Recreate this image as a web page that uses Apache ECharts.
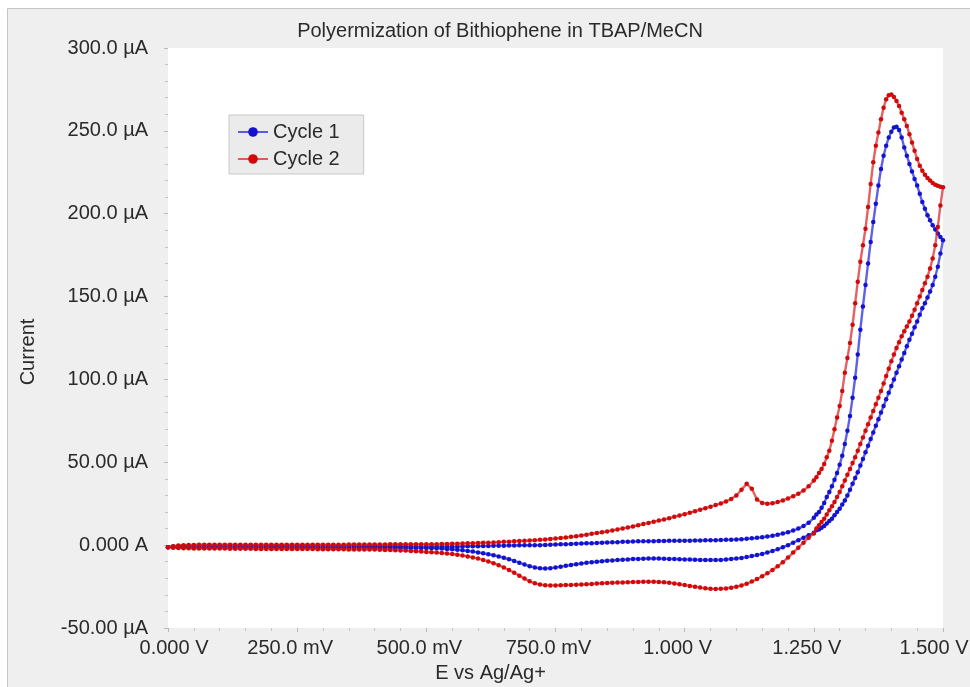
<!DOCTYPE html>
<html>
<head>
<meta charset="utf-8">
<script src="https://cdn.jsdelivr.net/npm/echarts/dist/echarts.min.js"></script>
<style>
html,body{margin:0;padding:0;background:#ffffff;}
#chart{width:970px;height:687px;}
</style>
</head>
<body>
<div id="chart"></div>
<script>
// Potential grid (V): 10 mV steps to 1.25 V, then 5 mV steps to 1.50 V
const potentials = [
0.00,0.01,0.02,0.03,0.04,0.05,0.06,0.07,0.08,0.09,
0.10,0.11,0.12,0.13,0.14,0.15,0.16,0.17,0.18,0.19,
0.20,0.21,0.22,0.23,0.24,0.25,0.26,0.27,0.28,0.29,
0.30,0.31,0.32,0.33,0.34,0.35,0.36,0.37,0.38,0.39,
0.40,0.41,0.42,0.43,0.44,0.45,0.46,0.47,0.48,0.49,
0.50,0.51,0.52,0.53,0.54,0.55,0.56,0.57,0.58,0.59,
0.60,0.61,0.62,0.63,0.64,0.65,0.66,0.67,0.68,0.69,
0.70,0.71,0.72,0.73,0.74,0.75,0.76,0.77,0.78,0.79,
0.80,0.81,0.82,0.83,0.84,0.85,0.86,0.87,0.88,0.89,
0.90,0.91,0.92,0.93,0.94,0.95,0.96,0.97,0.98,0.99,
1.00,1.01,1.02,1.03,1.04,1.05,1.06,1.07,1.08,1.09,
1.10,1.11,1.12,1.13,1.14,1.15,1.16,1.17,1.18,1.19,
1.20,1.21,1.22,1.23,1.24,1.25,
1.255,1.260,1.265,1.270,1.275,1.280,1.285,1.290,1.295,1.300,
1.305,1.310,1.315,1.320,1.325,1.330,1.335,1.340,1.345,1.350,
1.355,1.360,1.365,1.370,1.375,1.380,1.385,1.390,1.395,1.400,
1.405,1.410,1.415,1.420,1.425,1.430,1.435,1.440,1.445,1.450,
1.455,1.460,1.465,1.470,1.475,1.480,1.485,1.490,1.495,1.500
];

// Currents (µA), indexed like potentials. Forward = anodic sweep 0 -> 1.5 V,
// reverse = return sweep (listed here in ascending potential order).
const cycle1Forward = [
-1.2,-0.8,-0.6,-0.5,-0.5,-0.5,-0.5,-0.4,-0.4,-0.4,
-0.4,-0.4,-0.4,-0.4,-0.4,-0.4,-0.4,-0.4,-0.4,-0.4,
-0.4,-0.4,-0.4,-0.4,-0.4,-0.4,-0.4,-0.4,-0.5,-0.5,
-0.5,-0.5,-0.5,-0.5,-0.5,-0.5,-0.5,-0.6,-0.6,-0.6,
-0.6,-0.6,-0.7,-0.7,-0.7,-0.8,-0.8,-0.8,-0.9,-0.9,
-1.0,-1.0,-1.0,-1.0,-1.0,-0.9,-0.9,-0.8,-0.7,-0.7,
-0.6,-0.5,-0.5,-0.4,-0.3,-0.3,-0.2,-0.2,-0.1,-0.1,
-0.1,0.0,0.0,0.1,0.2,0.4,0.5,0.6,0.7,0.9,
1.0,1.1,1.2,1.3,1.5,1.6,1.7,1.8,2.0,2.1,
2.2,2.3,2.3,2.4,2.4,2.5,2.5,2.6,2.6,2.6,
2.7,2.7,2.8,2.8,2.9,3.0,3.0,3.1,3.2,3.3,
3.4,3.6,3.8,4.1,4.4,4.8,5.2,5.7,6.3,7.0,
7.8,8.8,10.0,11.5,13.5,16.5,
18.5,20,22.5,25.5,29,32,35.5,39.5,43.5,48.5,
54,61,69,78,89,101,115,130,144,157,
170,183,195,206,217,227,235,241,246,249.5,
252,252.5,250.5,246,240,235,230,225.5,221,217,
212,207,203,199,196,193,190.5,188,186,184
];
const cycle1Reverse = [
-1.2,-1.2,-1.2,-1.2,-1.3,-1.3,-1.3,-1.3,-1.3,-1.3,
-1.3,-1.3,-1.3,-1.3,-1.3,-1.3,-1.3,-1.3,-1.3,-1.3,
-1.3,-1.3,-1.3,-1.3,-1.4,-1.4,-1.4,-1.4,-1.4,-1.4,
-1.4,-1.4,-1.4,-1.5,-1.5,-1.5,-1.5,-1.5,-1.5,-1.6,
-1.6,-1.6,-1.6,-1.6,-1.6,-1.6,-1.7,-1.7,-1.7,-1.7,
-1.7,-1.8,-1.9,-2.1,-2.3,-2.5,-2.8,-3.1,-3.5,-3.9,
-4.4,-4.9,-5.5,-6.1,-6.8,-7.6,-8.5,-9.5,-10.6,-11.7,
-12.7,-13.5,-14.0,-14.1,-13.9,-13.5,-13.0,-12.5,-12.0,-11.5,
-11.1,-10.7,-10.3,-10.0,-9.7,-9.4,-9.2,-9.0,-8.8,-8.6,
-8.4,-8.3,-8.2,-8.1,-8.1,-8.1,-8.2,-8.3,-8.4,-8.5,
-8.6,-8.7,-8.8,-8.9,-9.0,-9.0,-9.0,-8.9,-8.7,-8.4,
-8.1,-7.7,-7.2,-6.6,-6.0,-5.3,-4.5,-3.5,-2.5,-1.2,
0.0,1.5,3.0,4.5,6.0,7.5,
9,9.5,10.5,11.5,13,14.5,16,18,20,22,
24.5,27,30,33.5,37,40.5,44,48,52,56,
60,64,68,72,76,80,84,88,92,96,
100,104,108,112,116,120,124,127.5,131.5,135,
139,143,146,149.5,153,157,162,168,176,184
];
const cycle2Forward = [
-1.2,-0.6,-0.2,0.0,0.1,0.1,0.2,0.2,0.2,0.2,
0.2,0.2,0.2,0.2,0.2,0.2,0.2,0.2,0.2,0.2,
0.2,0.2,0.2,0.2,0.3,0.3,0.3,0.3,0.3,0.3,
0.3,0.3,0.3,0.3,0.3,0.4,0.4,0.4,0.4,0.4,
0.4,0.4,0.4,0.5,0.5,0.5,0.5,0.5,0.6,0.6,
0.6,0.6,0.6,0.7,0.7,0.8,0.9,1.0,1.1,1.2,
1.3,1.4,1.5,1.6,1.8,2.0,2.1,2.3,2.5,2.6,
2.8,3.0,3.2,3.4,3.7,4.0,4.3,4.6,5.0,5.4,
5.8,6.3,6.8,7.3,7.8,8.3,8.9,9.5,10.1,10.7,
11.3,12.0,12.7,13.4,14.1,14.8,15.5,16.3,17.1,17.9,
18.7,19.6,20.5,21.4,22.3,23.2,24.2,25.2,26.4,27.8,
30.0,33.5,37.0,34.0,27.5,25.5,25.0,25.3,26.0,27.0,
28.2,29.5,31.0,33.0,35.5,39.0,
41,43.5,46,49,53,57,63,70,77,84,
93,104,113,122,133,146,159,171,181,191,
204,218,231,241,249,257,264,269,271.5,272,
270.5,268,265,261,257,253,248,243,238,233,
229,226,223.5,221.5,220,218.5,217.5,216.8,216.2,216
];
const cycle2Reverse = [
-1.3,-1.5,-1.7,-1.8,-1.9,-2.0,-2.0,-2.0,-2.1,-2.1,
-2.1,-2.1,-2.2,-2.2,-2.2,-2.2,-2.2,-2.3,-2.3,-2.3,
-2.3,-2.3,-2.3,-2.4,-2.4,-2.4,-2.4,-2.4,-2.4,-2.5,
-2.5,-2.5,-2.5,-2.5,-2.5,-2.6,-2.6,-2.6,-2.6,-2.6,
-2.7,-2.8,-2.9,-3.0,-3.1,-3.2,-3.3,-3.5,-3.7,-3.9,
-4.1,-4.3,-4.5,-4.8,-5.1,-5.4,-5.8,-6.3,-6.8,-7.4,
-8.1,-8.9,-9.8,-10.9,-12.1,-13.5,-15.0,-16.6,-18.4,-20.2,
-21.8,-23.0,-23.8,-24.2,-24.3,-24.3,-24.2,-24.1,-24.0,-23.9,
-23.8,-23.6,-23.4,-23.2,-23.0,-22.8,-22.7,-22.6,-22.5,-22.4,
-22.3,-22.2,-22.1,-22.1,-22.1,-22.2,-22.4,-22.7,-23.1,-23.6,
-24.1,-24.6,-25.1,-25.6,-26.0,-26.3,-26.4,-26.3,-26.1,-25.7,
-25.1,-24.3,-23.3,-22.0,-20.5,-18.8,-17.0,-15.0,-12.8,-10.3,
-7.5,-4.5,-1.5,1.5,4.5,7.0,
10,12,14,16,18.5,21,23.5,26,29,32,
35.5,39,42.5,46,49.5,53,57,61,65,69,
73,77,81,85,89,93,97.5,102,106.5,111,
115,119,122.5,126,129,132,135,138.5,142,146,
150,154,158,162,167,173,181,192,205,216
];

const seriesNames = ['Cycle 1', 'Cycle 2'];
const xTickValues = [0, 0.25, 0.5, 0.75, 1.0, 1.25, 1.5];
const xTickLabels = ['0.000 V', '250.0 mV', '500.0 mV', '750.0 mV', '1.000 V', '1.250 V', '1.500 V'];
const yTickValues = [-50, 0, 50, 100, 150, 200, 250, 300];
const yTickLabels = ['-50.00 µA', '0.000 A', '50.00 µA', '100.0 µA', '150.0 µA', '200.0 µA', '250.0 µA', '300.0 µA'];

function buildLoop(fwd, rev) {
  const pts = [];
  for (let i = 0; i < potentials.length; i++) pts.push([potentials[i], fwd[i]]);
  for (let i = potentials.length - 2; i >= 0; i--) pts.push([potentials[i], rev[i]]);
  return pts;
}
function lookupIndex(values, v) {
  for (let i = 0; i < values.length; i++) if (Math.abs(values[i] - v) < 1e-6) return i;
  return -1;
}

const chart = echarts.init(document.getElementById('chart'), null, {renderer: 'canvas'});
const labelFont = 'Liberation Sans, Arial, sans-serif';
const textColor = '#2a2a2a';

chart.setOption({
  animation: false,
  backgroundColor: '#ffffff',
  graphic: [{
    type: 'rect', z: -10, silent: true,
    shape: {x: 7.5, y: 8.5, width: 980, height: 700},
    style: {fill: '#efefef', stroke: '#c4c4c4', lineWidth: 1}
  }],
  title: {
    text: 'Polyermization of Bithiophene in TBAP/MeCN',
    left: 495, top: 16, textAlign: 'center',
    textStyle: {fontFamily: labelFont, fontSize: 20, fontWeight: 'normal', color: textColor}
  },
  legend: {
    orient: 'vertical', left: 229, top: 115,
    data: seriesNames,
    backgroundColor: '#ebebeb', borderColor: '#c8c8c8', borderWidth: 1,
    padding: [7, 24, 5, 8], itemGap: 7, itemWidth: 30, itemHeight: 12,
    textStyle: {fontFamily: labelFont, fontSize: 20, color: textColor}
  },
  grid: {
    left: 168, right: 27, top: 48, bottom: 59,
    containLabel: false, outerBoundsMode: 'none',
    show: true, backgroundColor: '#ffffff', borderWidth: 0
  },
  xAxis: {
    type: 'value', min: 0, max: 1.5, interval: 0.25,
    name: 'E vs Ag/Ag+', nameLocation: 'middle', nameGap: 35,
    nameTextStyle: {fontFamily: labelFont, fontSize: 20, color: textColor, padding: [0, 130, 0, 0]},
    axisLine: {show: false, onZero: false},
    axisTick: {show: true, length: 4, lineStyle: {color: '#b8b8b8'}},
    minorTick: {show: true, splitNumber: 5, length: 3, lineStyle: {color: '#c4c4c4'}},
    splitLine: {show: false},
    axisLabel: {
      margin: 10, fontFamily: labelFont, fontSize: 20, color: textColor,
      formatter: v => {
        const i = lookupIndex(xTickValues, v);
        if (i < 0) return '';
        if (i === 0) return '{first|' + xTickLabels[i] + '}';
        if (i === xTickValues.length - 1) return '{last|' + xTickLabels[i] + '}';
        return '{mid|' + xTickLabels[i] + '}';
      },
      rich: {
        first: {fontFamily: labelFont, fontSize: 20, color: textColor, padding: [0, 0, 0, 12]},
        mid: {fontFamily: labelFont, fontSize: 20, color: textColor, padding: [0, 14, 0, 0]},
        last: {fontFamily: labelFont, fontSize: 20, color: textColor, padding: [0, 18, 0, 0]}
      }
    }
  },
  yAxis: {
    type: 'value', min: -50, max: 300, interval: 50,
    name: 'Current', nameLocation: 'middle', nameGap: 130, nameRotate: 90,
    nameTextStyle: {fontFamily: labelFont, fontSize: 20, color: textColor, padding: [0, 28, 0, 0]},
    axisLine: {show: false, onZero: false},
    axisTick: {show: true, length: 4, lineStyle: {color: '#b8b8b8'}},
    minorTick: {show: true, splitNumber: 5, length: 3, lineStyle: {color: '#c4c4c4'}},
    splitLine: {show: false},
    axisLabel: {
      margin: 20, fontFamily: labelFont, fontSize: 20, color: textColor,
      formatter: v => {
        const i = lookupIndex(yTickValues, v);
        return i < 0 ? '' : yTickLabels[i];
      }
    }
  },
  series: [
    {
      name: seriesNames[0], type: 'line',
      data: buildLoop(cycle1Forward, cycle1Reverse),
      symbol: 'circle', symbolSize: 4.5, showSymbol: true,
      itemStyle: {color: '#1212d0'},
      lineStyle: {color: 'rgba(30,30,220,0.7)', width: 2.4},
      clip: true, z: 2
    },
    {
      name: seriesNames[1], type: 'line',
      data: buildLoop(cycle2Forward, cycle2Reverse),
      symbol: 'circle', symbolSize: 4.5, showSymbol: true,
      itemStyle: {color: '#d00a0a'},
      lineStyle: {color: 'rgba(215,30,30,0.7)', width: 2.4},
      clip: true, z: 3
    }
  ]
});
</script>
</body>
</html>
